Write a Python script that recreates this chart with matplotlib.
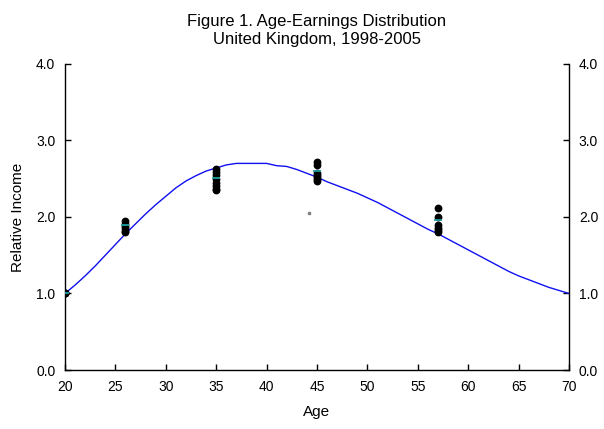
import numpy as np
import matplotlib.pyplot as plt
import matplotlib as mpl

mpl.rcParams["font.family"] = ["Liberation Sans", "DejaVu Sans"]
mpl.rcParams["xtick.labelsize"] = 10
mpl.rcParams["ytick.labelsize"] = 10

# fitted age-earnings profile
ages = np.arange(20, 71)
profile = [1.00, 1.11, 1.23, 1.36, 1.50, 1.64, 1.78, 1.91, 2.04, 2.16,
           2.27, 2.38, 2.47, 2.54, 2.60, 2.64, 2.68, 2.70, 2.70, 2.70,
           2.70, 2.67, 2.66, 2.62, 2.57, 2.52, 2.46, 2.41, 2.36, 2.31,
           2.25, 2.19, 2.12, 2.05, 1.98, 1.91, 1.84, 1.78, 1.71, 1.64,
           1.57, 1.50, 1.43, 1.36, 1.29, 1.23, 1.18, 1.13, 1.08, 1.04,
           1.00]

# observed relative income by year (1998-2005)
obs_age = [20, 26, 35, 45, 57]
obs = {
    20: [1.00, 1.00, 1.00, 1.00],
    26: [1.95, 1.91, 1.88, 1.85, 1.82, 1.80],
    35: [2.63, 2.59, 2.55, 2.50, 2.45, 2.40, 2.37, 2.35],
    45: [2.72, 2.68, 2.58, 2.55, 2.52, 2.50, 2.47],
    57: [2.12, 2.00, 1.90, 1.86, 1.83, 1.80],
}
obs_mean = [1.00, 1.89, 2.51, 2.60, 1.96]

stray_x, stray_y = [44.2], [2.05]

fig = plt.figure(figsize=(6.04, 4.29), dpi=100)
ax = fig.add_axes([0.1076, 0.1375, 0.8345, 0.7135])

ax.plot(ages, profile, color="#1010f0", linewidth=1.0, zorder=2)
for a in obs_age:
    ax.plot([a] * len(obs[a]), obs[a], "o", color="black", markersize=4.6, zorder=3)
ax.plot(obs_age, obs_mean, "_", color="#20a0a0", markersize=6, markeredgewidth=1.3, zorder=4)
ax.plot(stray_x, stray_y, "s", color="#808080", markersize=1.5, zorder=3)

ax.set_xlim(20, 70)
ax.set_ylim(0, 4)
ax.set_xticks(np.arange(20, 71, 5))
ax.set_yticks(np.arange(0, 4.1, 1.0))
ax.set_yticklabels(["0.0", "1.0", "2.0", "3.0", "4.0"])
ax.tick_params(direction="in", length=4, width=1, colors="black", pad=7)
ax.tick_params(axis="y", right=True, labelright=True)
ax.spines["top"].set_visible(False)
for s in ["left", "right", "bottom"]:
    ax.spines[s].set_linewidth(1.0)

ax.set_xlabel("Age", fontsize=11, labelpad=8)
ax.set_ylabel("Relative Income", fontsize=11, labelpad=8)
ax.set_title("Figure 1. Age-Earnings Distribution\nUnited Kingdom, 1998-2005",
             fontsize=12, pad=14, linespacing=1.25)

plt.savefig("out.png", dpi=100)
